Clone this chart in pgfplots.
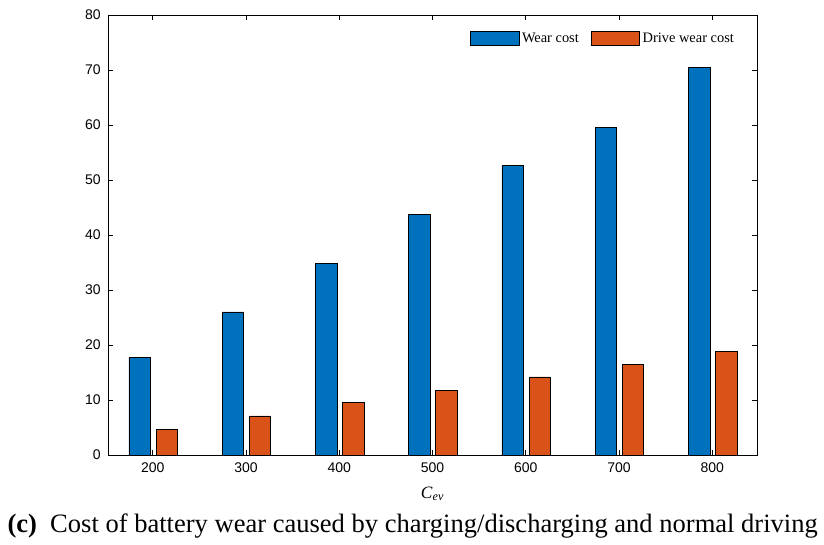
\documentclass[border=0pt]{standalone}
\usepackage{pgfplots}
\pgfplotsset{compat=1.18}
\usepackage{fontspec}
\setmainfont{Liberation Serif}
\newfontfamily\arial{Liberation Sans}

\definecolor{wearblue}{RGB}{0,114,189}
\definecolor{driveorange}{RGB}{217,83,25}

\pgfplotstableread{
cap  wear  drive
200  17.8  4.7
300  26.0  7.1
400  34.9  9.5
500  43.8  11.8
600  52.6  14.2
700  59.5  16.5
800  70.5  18.9
}\costdata

\begin{document}
\begin{tikzpicture}
\path[use as bounding box] (-81pt,-67.5pt) rectangle (537pt,341.25pt);
\begin{axis}[
  at={(0pt,0pt)}, anchor=south west,
  scale only axis,
  width=486.75pt, height=330pt,
  xmin=152, xmax=848,
  ymin=0, ymax=80,
  xtick={200,300,...,800},
  ytick={0,10,...,80},
  tick align=inside,
  major tick length=4pt,
  axis line style={line width=0.6pt},
  every tick/.style={black, line width=0.6pt},
  ticklabel style={font=\arial\fontsize{10.5}{12}\selectfont},
  yticklabel style={xshift=-2pt},
  xticklabel style={yshift=-2pt},
  /pgf/number format/assume math mode=true,
  /pgf/number format/1000 sep={},
  xlabel={\fontsize{13}{15}\selectfont\textit{C}\textsubscript{\textit{ev}}},
  xlabel style={at={(axis description cs:0.5,-0.062)}, anchor=north},
  legend columns=2,
  legend style={draw=none, fill=none, at={(0.975,0.972)}, anchor=north east,
    font=\fontsize{10.8}{12}\selectfont,
    /tikz/every even column/.append style={column sep=7pt}},
  legend image code/.code={\draw[#1, draw=black, line width=0.4pt] (0pt,-5.2pt) rectangle (36.5pt,5.2pt);},
]
\addplot[ybar, bar width=23, bar shift=-14, fill=wearblue, draw=black, line width=0.5pt]
  table[x=cap, y=wear] {\costdata};
\addplot[ybar, bar width=23, bar shift=15, fill=driveorange, draw=black, line width=0.5pt]
  table[x=cap, y=drive] {\costdata};
\legend{Wear cost, Drive wear cost}
\end{axis}
\node[font=\fontsize{19.9}{23}\selectfont] at (228.5pt,-53pt)
  {\textbf{(c)}\ \ Cost of battery wear caused by charging/discharging and normal driving};
\end{tikzpicture}
\end{document}
